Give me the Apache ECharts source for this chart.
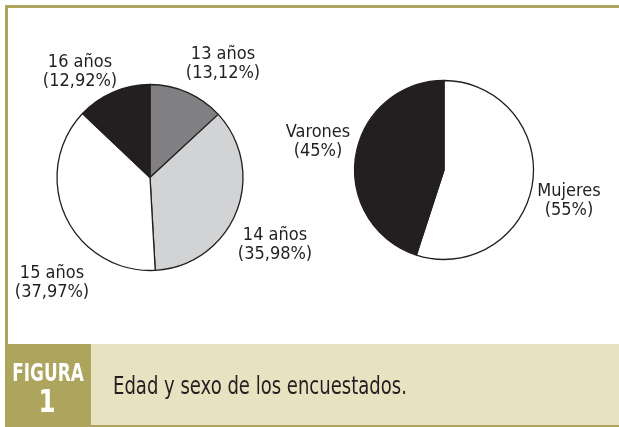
<!DOCTYPE html>
<html>
<head>
<meta charset="utf-8">
<script src="https://cdn.jsdelivr.net/npm/echarts@6/dist/echarts.min.js"></script>
<style>
html, body { margin: 0; padding: 0; background: #fff; }
#chart { width: 619px; height: 427px; }
</style>
</head>
<body>
<div id="chart"></div>
<script>
// edad
const ageNames = ['13 años', '14 años', '15 años', '16 años']
const ageValues = [13.12, 35.98, 37.97, 12.92]
// sexo
const sexNames = ['Mujeres', 'Varones']
const sexValues = [55, 45]
const caption = 'Edad y sexo de los encuestados.'
const figLabel = 'FIGURA'
const figNumber = '1'

const font = '"DejaVu Sans Condensed", "Liberation Sans Narrow", sans-serif'
const ink = '#231f20'
const olive = '#ada45e'
const beige = '#e8e2c1'
const ageColors = ['#808083', '#d1d3d4', '#ffffff', ink]
const sexColors = ['#ffffff', ink]

// label block centres, placed by eye (same order as the data)
const labelSpots = [
  [[223, 64], [275, 245], [52, 283], [80, 72]],
  [[569, 201], [318, 142]]
]

function fmt(v) {
  return Number.isInteger(v) ? String(v) : v.toFixed(2).replace('.', ',')
}

function pieSeries(names, values, colors, center, radius) {
  return {
    type: 'pie',
    center: center,
    radius: radius,
    startAngle: 90,
    clockwise: true,
    silent: true,
    avoidLabelOverlap: false,
    data: names.map((n, i) => ({ name: n, value: values[i], itemStyle: { color: colors[i] } })),
    itemStyle: { borderColor: ink, borderWidth: 1.3 },
    label: {
      show: true,
      position: 'outside',
      formatter: p => p.name + '\n(' + fmt(p.value) + '%)',
      color: ink,
      fontFamily: font,
      fontSize: 18,
      lineHeight: 19
    },
    labelLine: { show: false },
    labelLayout: p => {
      const s = labelSpots[p.seriesIndex][p.dataIndex]
      return { x: s[0], y: s[1], align: 'center', verticalAlign: 'middle' }
    }
  }
}

const chart = echarts.init(document.getElementById('chart'), null, { renderer: 'canvas' })
chart.setOption({
  animation: false,
  backgroundColor: '#fff',
  graphic: [
    { type: 'rect', shape: { x: 5, y: 5, width: 614, height: 3 }, style: { fill: olive }, silent: true },
    { type: 'rect', shape: { x: 5, y: 5, width: 3, height: 340 }, style: { fill: olive }, silent: true },
    { type: 'rect', shape: { x: 5, y: 344, width: 614, height: 81 }, style: { fill: beige }, silent: true },
    { type: 'rect', shape: { x: 5, y: 344, width: 86, height: 81 }, style: { fill: olive }, silent: true },
    { type: 'rect', shape: { x: 5, y: 425, width: 614, height: 2 }, style: { fill: olive }, silent: true },
    {
      type: 'text', x: 48, y: 374, scaleX: 0.75, silent: true,
      style: { text: figLabel, fill: '#fff', font: 'bold 25px ' + font, align: 'center', verticalAlign: 'middle' }
    },
    {
      type: 'text', x: 47, y: 404, scaleX: 0.85, silent: true,
      style: { text: figNumber, fill: '#fff', font: 'bold 32px ' + font, align: 'center', verticalAlign: 'middle' }
    },
    {
      type: 'text', x: 113, y: 388, scaleX: 0.835, silent: true,
      style: { text: caption, fill: ink, font: '24px ' + font, align: 'left', verticalAlign: 'middle' }
    }
  ],
  series: [
    pieSeries(ageNames, ageValues, ageColors, [150, 177.5], 93),
    pieSeries(sexNames, sexValues, sexColors, [444, 170], 89.5)
  ]
})
</script>
</body>
</html>
